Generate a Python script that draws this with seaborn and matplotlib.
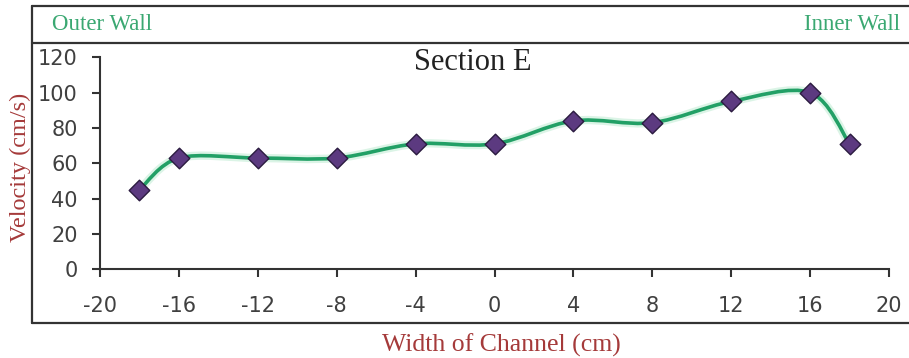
import numpy as np
import pandas as pd
import matplotlib
matplotlib.use("Agg")
import matplotlib.pyplot as plt
import seaborn as sns
from matplotlib.path import Path
from matplotlib.patches import PathPatch
from matplotlib.lines import Line2D
import matplotlib.patheffects as pe

# Velocity profile across the channel width, Section E
width_cm = [-18, -16, -12, -8, -4, 0, 4, 8, 12, 16, 18]
velocity_cms = [45, 63, 63, 63, 71, 71, 84, 83, 95, 100, 71]
x_ticks = [-20, -16, -12, -8, -4, 0, 4, 8, 12, 16, 20]
y_ticks = [0, 20, 40, 60, 80, 100, 120]

df = pd.DataFrame({"width": width_cm, "velocity": velocity_cms})

sns.set_theme(style="white")
plt.rcParams["font.family"] = ["DejaVu Sans"]

W, H = 909, 358
fig = plt.figure(figsize=(W / 100, H / 100), dpi=100)
fig.patch.set_facecolor("white")


def fx(px):
    return px / W


def fy(py):
    return 1 - py / H


ax = fig.add_axes([fx(100), fy(269.3), fx(889) - fx(100), fy(57.3) - fy(269.3)])
ax.set_facecolor("white")

# Smoothed curve through the measured points (cubic Bezier, Catmull-Rom tangents)
pts = df[["width", "velocity"]].to_numpy(dtype=float)
verts = [tuple(pts[0])]
codes = [Path.MOVETO]
n = len(pts)
for i in range(n - 1):
    p0 = pts[i - 1] if i > 0 else pts[i]
    p1 = pts[i]
    p2 = pts[i + 1]
    p3 = pts[i + 2] if i + 2 < n else pts[i + 1]
    c1 = p1 + (p2 - p0) / 6.0
    c2 = p2 - (p3 - p1) / 6.0
    verts += [tuple(c1), tuple(c2), tuple(p2)]
    codes += [Path.CURVE4] * 3
curve = PathPatch(Path(verts, codes), facecolor="none", edgecolor="#22A066",
                  lw=2.6, capstyle="round", joinstyle="round", zorder=2)
curve.set_path_effects([pe.Stroke(linewidth=6.0, foreground="#C4EDD6", alpha=0.6),
                        pe.Normal()])
ax.add_patch(curve)

sns.scatterplot(data=df, x="width", y="velocity", ax=ax, marker="D", s=110,
                color="#5C3A80", edgecolor="#2B1B40", linewidth=1.0,
                zorder=3, legend=False)

ax.set_xlim(-20, 20)
ax.set_ylim(0, 120)
ax.set_xticks(x_ticks)
ax.set_yticks(y_ticks)
ax.set_xticklabels([str(v) for v in x_ticks])
ax.set_yticklabels([str(v) for v in y_ticks])
ax.set_xlabel("")
ax.set_ylabel("")
for side in ("top", "right"):
    ax.spines[side].set_visible(False)
for side in ("left", "bottom"):
    ax.spines[side].set_color("#333333")
    ax.spines[side].set_linewidth(1.5)
ax.tick_params(axis="both", direction="out", length=6, width=1.5,
               color="#333333", labelcolor="#404040", labelsize=15)
ax.tick_params(axis="x", pad=13, bottom=True)
ax.tick_params(axis="y", pad=10, left=True)
ax.grid(False)

# Frame with the header band
frame_kw = dict(color="#333333", lw=1.6, transform=fig.transFigure)
fig.add_artist(Line2D([fx(32), 1.0], [fy(6), fy(6)], **frame_kw))
fig.add_artist(Line2D([fx(32), 1.0], [fy(43), fy(43)], **frame_kw))
fig.add_artist(Line2D([fx(32), 1.0], [fy(323), fy(323)], **frame_kw))
fig.add_artist(Line2D([fx(32), fx(32)], [fy(6), fy(323)], **frame_kw))

serif = ["Liberation Serif", "DejaVu Serif"]
wall_color = "#3BA872"
label_color = "#A53A3A"
fig.text(fx(52), fy(25), "Outer Wall", ha="left", va="center", fontsize=16.5,
         family=serif, color=wall_color)
fig.text(fx(900), fy(25), "Inner Wall", ha="right", va="center", fontsize=16.5,
         family=serif, color=wall_color)
fig.text(fx(473), fy(63), "Section E", ha="center", va="center", fontsize=22,
         family=serif, color="#222222")
fig.text(fx(20), fy(167), "Velocity (cm/s)", ha="center", va="center",
         rotation=90, fontsize=17.5, family=serif, color=label_color)
fig.text(fx(501), fy(345), "Width of Channel (cm)", ha="center", va="center",
         fontsize=18.5, family=serif, color=label_color)

fig.savefig("out.png", dpi=100, facecolor="white")
